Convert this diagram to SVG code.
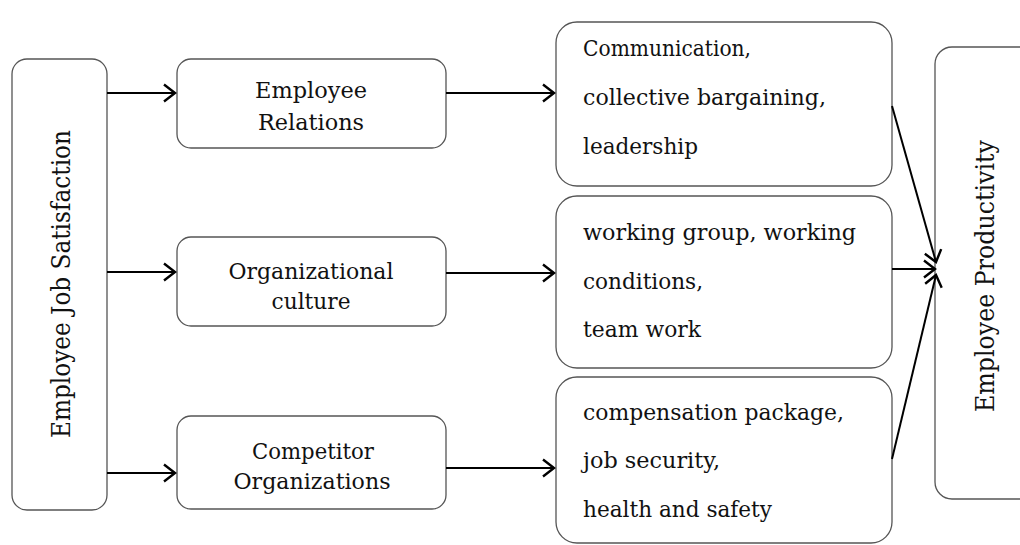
<svg xmlns="http://www.w3.org/2000/svg" width="1020" height="545" viewBox="0 0 1020 545">
  <style>
    .box { fill: #ffffff; stroke: #555555; stroke-width: 1.3; }
    .t { font-family: 'DejaVu Serif', 'Liberation Serif', serif; font-size: 23px; fill: #111111; }
    .c { text-anchor: middle; }
    .rot { font-family: 'DejaVu Serif', 'Liberation Serif', serif; font-size: 26px; fill: #111111; text-anchor: middle; }
    .edge { stroke: #000000; stroke-width: 2; fill: none; marker-end: url(#open); }
  </style>
  <defs>
    <marker id="open" markerUnits="userSpaceOnUse" markerWidth="24" markerHeight="24" viewBox="-14 -12 24 24" refX="0" refY="0" orient="auto">
      <path d="M-11,-8.5 L0,0 L-11,8.5" fill="none" stroke="#000000" stroke-width="2.4" stroke-linejoin="miter"/>
    </marker>
  </defs>
  <rect width="1020" height="545" fill="#ffffff"/>

  <g id="job-satisfaction">
    <rect class="box" x="12" y="59" width="95" height="451" rx="15"/>
    <text class="rot" transform="translate(70,284) rotate(-90)" textLength="308" lengthAdjust="spacingAndGlyphs">Employee Job Satisfaction</text>
  </g>

  <g id="employee-relations">
    <rect class="box" x="177" y="59" width="269" height="89" rx="14"/>
    <text class="t c" x="311" y="98" textLength="112" lengthAdjust="spacingAndGlyphs">Employee</text>
    <text class="t c" x="311" y="130" textLength="106" lengthAdjust="spacingAndGlyphs">Relations</text>
  </g>

  <g id="organizational-culture">
    <rect class="box" x="177" y="237" width="269" height="89" rx="14"/>
    <text class="t c" x="311" y="279" textLength="165" lengthAdjust="spacingAndGlyphs">Organizational</text>
    <text class="t c" x="311" y="309" textLength="79" lengthAdjust="spacingAndGlyphs">culture</text>
  </g>

  <g id="competitor-organizations">
    <rect class="box" x="177" y="416" width="269" height="93" rx="14"/>
    <text class="t c" x="313" y="459" textLength="122" lengthAdjust="spacingAndGlyphs">Competitor</text>
    <text class="t c" x="312" y="489" textLength="157" lengthAdjust="spacingAndGlyphs">Organizations</text>
  </g>

  <g id="relations-factors">
    <rect class="box" x="556" y="22" width="336" height="164" rx="21"/>
    <text class="t" x="583" y="56" textLength="168" lengthAdjust="spacingAndGlyphs">Communication,</text>
    <text class="t" x="583" y="105" textLength="243" lengthAdjust="spacingAndGlyphs">collective bargaining,</text>
    <text class="t" x="583" y="154" textLength="115" lengthAdjust="spacingAndGlyphs">leadership</text>
  </g>

  <g id="culture-factors">
    <rect class="box" x="556" y="196" width="336" height="172" rx="21"/>
    <text class="t" x="583" y="240" textLength="273" lengthAdjust="spacingAndGlyphs">working group, working</text>
    <text class="t" x="583" y="289" textLength="120" lengthAdjust="spacingAndGlyphs">conditions,</text>
    <text class="t" x="583" y="337" textLength="118" lengthAdjust="spacingAndGlyphs">team work</text>
  </g>

  <g id="competitor-factors">
    <rect class="box" x="556" y="377" width="336" height="166" rx="21"/>
    <text class="t" x="583" y="420" textLength="261" lengthAdjust="spacingAndGlyphs">compensation package,</text>
    <text class="t" x="583" y="468" textLength="137" lengthAdjust="spacingAndGlyphs">job security,</text>
    <text class="t" x="583" y="517" textLength="189" lengthAdjust="spacingAndGlyphs">health and safety</text>
  </g>

  <g id="productivity">
    <rect class="box" x="935" y="47" width="110" height="452" rx="17"/>
    <text class="rot" transform="translate(994,276) rotate(-90)" textLength="272" lengthAdjust="spacingAndGlyphs">Employee Productivity</text>
  </g>

  <g id="connectors">
    <line class="edge" x1="107" y1="93" x2="175" y2="93"/>
    <line class="edge" x1="107" y1="272" x2="175" y2="272"/>
    <line class="edge" x1="107" y1="473" x2="175" y2="473"/>
    <line class="edge" x1="446" y1="93" x2="554" y2="93"/>
    <line class="edge" x1="446" y1="273" x2="554" y2="273"/>
    <line class="edge" x1="446" y1="468" x2="554" y2="468"/>
    <line class="edge" x1="892" y1="106" x2="936" y2="262"/>
    <line class="edge" x1="892" y1="269" x2="935" y2="269"/>
    <line class="edge" x1="892" y1="459" x2="936" y2="275"/>
  </g>
</svg>
